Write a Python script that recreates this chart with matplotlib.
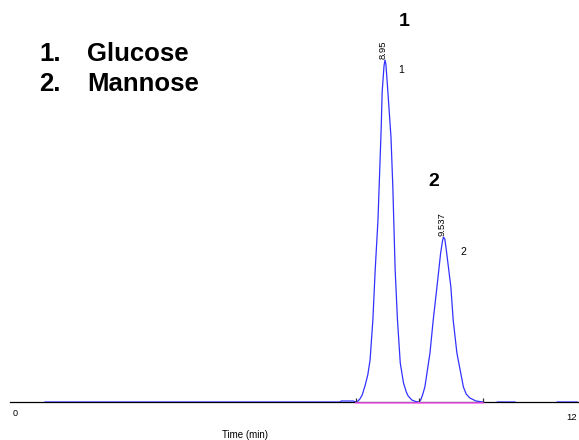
import numpy as np
import matplotlib.pyplot as plt

plt.rcParams['font.family'] = ['Liberation Sans', 'DejaVu Sans']

# Detector trace (time in min, signal in arbitrary units)
# NaN entries mark where the trace hides behind the axis line
trace_time = [0.67, 6.81, 7.02, 7.05, 7.24, 7.30, 7.37, 7.41, 7.45, 7.50, 7.56,
              7.62, 7.67, 7.73, 7.78, 7.84, 7.88, 7.91, 7.93, 7.97, 7.99, 8.01,
              8.04, 8.08, 8.12, 8.16, 8.21, 8.26, 8.32, 8.39, 8.45, 8.49,
              8.57, 8.65, 8.72, 8.76, 8.80, 8.85, 8.96, 9.03, 9.11, 9.19,
              9.23, 9.25, 9.28, 9.32, 9.41, 9.46, 9.54, 9.68, 9.74, 9.82,
              9.95, 10.10, 10.12, 10.41, 10.79, 10.80, 11.70, 12.13]
trace_signal = [0, 0, 0, 1, 1, 1, 0, 1, 3, 7, 16,
                27, 42, 82, 132, 182, 235, 275, 310, 336, 342, 338,
                319, 292, 265, 215, 132, 82, 39, 19, 10, 6,
                2, 0.5, 0, 2, 7, 15, 49, 82, 115, 149,
                161, 165, 163, 149, 115, 82, 49, 15, 8, 4,
                1, 0, np.nan, 0, 0, np.nan, 0, 0]

# Integration baselines and peak markers
peak_start = [7.37, 8.72]
peak_end = [8.72, 10.10]
retention_labels = ['8.95', '9.537']
label_time = [7.99, 9.25]
label_signal = [342, 165]
peak_numbers = ['1', '2']
compounds = ['Glucose', 'Mannose']
axis_ticks = [0, 12]

fig = plt.figure(figsize=(5.79, 4.4), dpi=100)
ax = fig.add_axes([10 / 579, 38 / 440, 569 / 579, 402 / 440])
ax.set_xlim(-0.086, 12.17)
ax.set_ylim(0, 402)
for side in ['top', 'right', 'left']:
    ax.spines[side].set_visible(False)
ax.spines['bottom'].set_linewidth(0.9)
ax.set_xticks([])
ax.set_yticks([])
ax.patch.set_alpha(0)

ax.plot(trace_time, trace_signal, color='#3232ff', lw=0.9, zorder=4)

# pink baselines under each peak
for s, e in zip(peak_start, peak_end):
    ax.plot([s, e], [-0.7, -0.7], color='#ff66ff', lw=1.1, zorder=3.5, clip_on=False)
ax.vlines(sorted(set(peak_start + peak_end)), 0, 4, color='#333333', lw=0.9, zorder=5)

# retention time labels and small peak numbers
num_dx = [0.35, 0.42]
num_dy = [-10, -15]
for t, h, lab, num, dx, dy in zip(label_time, label_signal, retention_labels,
                                  peak_numbers, num_dx, num_dy):
    ax.text(t - 0.03, h + 1, lab, rotation=90, ha='center', va='bottom', fontsize=6.8)
    ax.text(t + dx, h + dy, num, ha='center', va='center', fontsize=7.5)

# big peak numbers
ax.text(8.40, 376, peak_numbers[0], ha='center', va='baseline', fontsize=14, fontweight='bold')
ax.text(9.05, 216, peak_numbers[1], ha='center', va='baseline', fontsize=14, fontweight='bold')

# compound list
for i, name in enumerate(compounds):
    y = 0.861 - i * 0.068
    fig.text(39 / 579, y, f'{i + 1}.', fontsize=18.5, fontweight='bold', va='baseline')
    fig.text(87 / 579, y, name, fontsize=18.5, fontweight='bold', va='baseline')

# axis tick labels and title
ax.text(axis_ticks[0] + 0.02, -7, str(axis_ticks[0]), ha='center', va='top', fontsize=6.5, clip_on=False)
ax.text(axis_ticks[1] + 0.02, -11, str(axis_ticks[1]), ha='center', va='top', fontsize=6.8, clip_on=False)
fig.text(245 / 579, 5 / 440, 'Time (min)', ha='center', va='center', fontsize=7)

fig.savefig('out.png', dpi=100)
